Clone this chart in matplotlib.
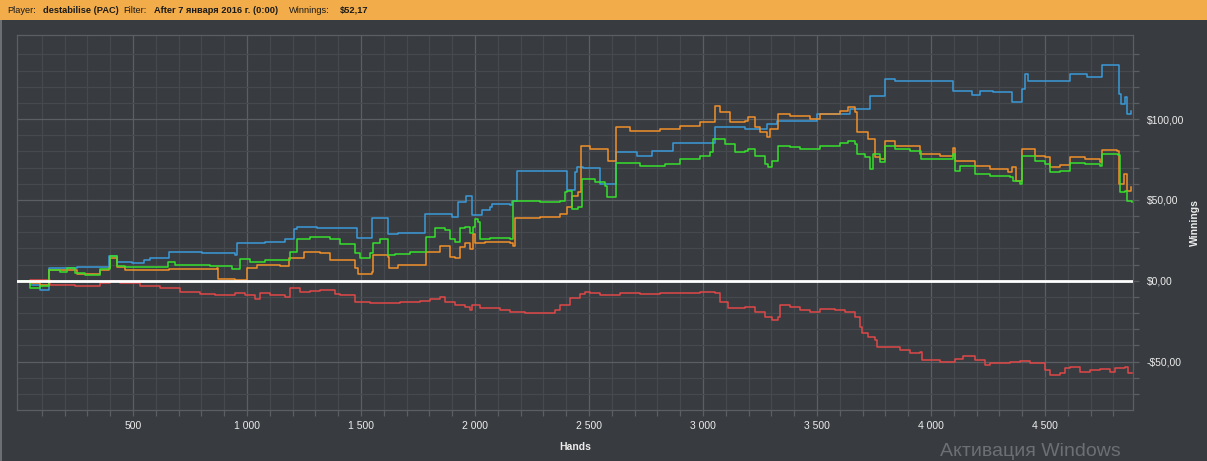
import matplotlib
matplotlib.use("Agg")
import matplotlib.pyplot as plt
from matplotlib.patches import Rectangle
from matplotlib.ticker import FixedLocator, FuncFormatter

plt.rcParams["font.family"] = ["Liberation Sans", "DejaVu Sans"]

# hands / winnings, one list pair per line
blue_h = [0, 48, 92, 132, 254, 395, 430, 496, 548, 574, 658, 803, 947, 956, 1079, 1167,
          1206, 1219, 1307, 1482, 1548, 1618, 1662, 1781, 1899, 1925, 1960, 1987, 2031,
          2066, 2075, 2153, 2162, 2184, 2403, 2439, 2447, 2474, 2548, 2583, 2618, 2710,
          2776, 2868, 3053, 3184, 3281, 3324, 3500, 3645, 3732, 3798, 3842, 4096, 4180,
          4215, 4272, 4355, 4399, 4412, 4425, 4610, 4684, 4750, 4825, 4833, 4851, 4860,
          4877]
blue_v = [0, -2.5, -5.6, 8.1, 8.7, 15.5, 11.8, 11.2, 13.0, 14.3, 18.0, 17.4, 16.1, 23.6,
          24.2, 26.1, 31.7, 33.5, 32.9, 26.7, 38.5, 28.6, 29.8, 41.0, 39.1, 48.4, 52.2,
          40.4, 43.5, 45.3, 47.2, 46.6, 49.1, 67.7, 55.9, 67.1, 70.2, 69.6, 59.6, 59.6,
          79.5, 77.0, 80.1, 85.1, 95.0, 93.8, 96.9, 98.7, 103.1, 106.2, 114.3, 124.8,
          123.6, 117.4, 114.9, 117.4, 116.7, 110.5, 118.6, 127.9, 123.6, 127.9, 126.1,
          133.5, 115.5, 109.3, 113.6, 103.1, 104.9]

orange_h = [0, 48, 92, 132, 254, 355, 395, 399, 430, 465, 658, 868, 873, 947, 1000, 1044,
            1145, 1184, 1250, 1320, 1364, 1474, 1487, 1548, 1553, 1618, 1623, 1662, 1781,
            1785, 1846, 1890, 1912, 1934, 1956, 1978, 1991, 2000, 2044, 2153, 2168, 2175,
            2285, 2373, 2403, 2425, 2452, 2465, 2504, 2548, 2579, 2583, 2618, 2680, 2811,
            2899, 2987, 3044, 3053, 3075, 3118, 3184, 3197, 3228, 3250, 3281, 3294, 3329,
            3382, 3469, 3513, 3601, 3636, 3667, 3675, 3724, 3754, 3776, 3798, 3842, 3952,
            4039, 4096, 4105, 4193, 4259, 4338, 4355, 4373, 4399, 4456, 4500, 4522, 4566,
            4610, 4675, 4741, 4750, 4816, 4825, 4846, 4860, 4877]
orange_v = [0, -1.2, -2.5, 6.8, 4.3, 6.8, 8.1, 14.3, 8.7, 6.8, 7.5, 8.1, 1.2, 0.6, 8.1,
            9.9, 9.3, 14.3, 18.0, 17.4, 13.0, 8.1, 4.3, 5.6, 16.1, 14.9, 8.1, 9.9, 9.9,
            18.0, 21.7, 14.9, 14.3, 21.1, 23.6, 19.3, 28.6, 23.6, 24.2, 23.6, 21.7, 38.5,
            39.1, 41.0, 45.3, 52.2, 54.6, 83.2, 81.4, 81.4, 81.4, 73.9, 95.0, 92.5, 93.8,
            95.6, 98.1, 98.1, 108.1, 104.3, 98.1, 98.7, 101.2, 95.0, 91.9, 88.8, 93.8,
            103.1, 101.8, 100.0, 103.1, 104.9, 107.4, 104.3, 91.9, 87.6, 76.4, 75.1, 86.3,
            83.2, 78.2, 77.0, 82.0, 73.9, 70.8, 68.9, 67.1, 70.2, 61.5, 81.4, 77.0, 76.4,
            70.2, 71.4, 76.4, 75.1, 73.3, 80.7, 80.1, 59.6, 65.8, 55.3, 57.8]

green_h = [0, 48, 92, 132, 180, 210, 246, 289, 355, 399, 430, 465, 653, 684, 750, 838,
           934, 969, 1013, 1079, 1189, 1219, 1276, 1320, 1364, 1408, 1474, 1496, 1539,
           1553, 1583, 1618, 1649, 1715, 1781, 1785, 1825, 1868, 1890, 1912, 1934, 1956,
           1978, 1991, 2000, 2013, 2022, 2066, 2153, 2167, 2285, 2373, 2395, 2403, 2425,
           2452, 2469, 2526, 2570, 2579, 2605, 2618, 2724, 2833, 2899, 2987, 3031, 3044,
           3096, 3140, 3184, 3197, 3228, 3272, 3285, 3303, 3329, 3382, 3425, 3513, 3601,
           3636, 3667, 3675, 3710, 3732, 3746, 3776, 3798, 3842, 3908, 3956, 4039, 4096,
           4105, 4127, 4193, 4259, 4346, 4360, 4390, 4399, 4456, 4500, 4522, 4566, 4610,
           4675, 4741, 4750, 4820, 4829, 4851, 4860, 4881]
green_v = [0, -4.3, -3.1, 6.8, 5.6, 8.1, 5.0, 3.7, 7.5, 15.5, 9.3, 8.7, 11.8, 9.9, 9.9,
           9.3, 7.5, 13.7, 11.8, 13.0, 18.0, 25.5, 27.3, 27.3, 25.5, 22.4, 17.4, 14.3,
           17.4, 23.6, 25.5, 16.1, 16.8, 18.0, 18.0, 27.3, 32.3, 31.1, 25.5, 24.2, 32.9,
           33.5, 29.8, 33.5, 37.9, 36.6, 25.5, 26.7, 25.5, 49.1, 48.4, 49.1, 54.6, 55.3,
           44.1, 45.3, 62.7, 60.9, 58.4, 51.5, 51.5, 72.7, 70.8, 72.0, 75.1, 77.0, 79.5,
           87.6, 84.5, 79.5, 80.1, 81.4, 77.0, 72.0, 70.2, 73.9, 83.2, 82.6, 81.4, 83.2,
           85.1, 86.3, 84.5, 78.2, 76.4, 68.9, 78.2, 73.3, 83.2, 81.4, 80.1, 75.1, 75.1,
           78.2, 67.7, 70.8, 65.8, 64.6, 64.0, 61.5, 59.6, 77.0, 73.9, 72.0, 67.1, 67.7,
           72.7, 72.0, 70.8, 78.2, 77.6, 54.6, 55.3, 49.1, 48.4]

red_h = [0, 48, 136, 180, 246, 355, 399, 443, 531, 618, 706, 794, 860, 947, 991, 1035,
         1057, 1101, 1167, 1189, 1232, 1276, 1320, 1386, 1408, 1474, 1539, 1583, 1671,
         1759, 1803, 1846, 1868, 1912, 1956, 1978, 1987, 2022, 2110, 2153, 2219, 2285,
         2351, 2373, 2417, 2460, 2482, 2504, 2548, 2636, 2724, 2811, 2899, 2987, 3031,
         3053, 3075, 3110, 3162, 3184, 3228, 3272, 3303, 3329, 3338, 3382, 3425, 3469,
         3513, 3579, 3623, 3667, 3689, 3697, 3724, 3754, 3763, 3820, 3864, 3908, 3952,
         3960, 4039, 4105, 4140, 4193, 4237, 4259, 4303, 4346, 4390, 4434, 4478, 4500,
         4522, 4566, 4588, 4610, 4653, 4697, 4741, 4785, 4807, 4851, 4864, 4881]
red_v = [0, 0.6, -2.5, -2.5, -3.1, -1.2, 0, -1.2, -3.1, -4.3, -6.8, -8.1, -8.7, -7.5,
         -8.7, -11.2, -7.5, -8.7, -9.9, -4.3, -6.8, -6.2, -5.6, -8.1, -8.7, -13.0, -13.7,
         -13.7, -13.0, -12.4, -11.2, -9.9, -13.0, -14.9, -16.1, -18.0, -14.9, -16.8,
         -18.0, -19.3, -19.9, -19.9, -18.0, -14.9, -10.6, -8.1, -6.8, -7.5, -8.7, -7.5,
         -8.1, -7.5, -7.5, -6.8, -6.8, -7.5, -13.0, -16.8, -16.8, -16.1, -19.3, -22.4,
         -24.2, -22.4, -14.9, -16.1, -18.0, -19.3, -17.4, -18.0, -19.3, -22.4, -28.6,
         -32.3, -34.8, -36.6, -41.0, -41.0, -42.8, -44.7, -44.1, -49.1, -50.3, -48.4,
         -46.6, -49.1, -52.2, -50.9, -50.9, -50.3, -49.7, -50.9, -50.9, -55.3, -58.4,
         -57.1, -54.0, -53.4, -56.5, -55.3, -54.6, -56.5, -54.0, -53.4, -57.1, -57.1]

x_major = [500, 1000, 1500, 2000, 2500, 3000, 3500, 4000, 4500]
x_minor = [h for h in range(100, 4900, 100) if h % 500]
y_major = [-50, 0, 50, 100]
y_minor = [-70, -60, -40, -30, -20, -10, 10, 20, 30, 40, 60, 70, 80, 90, 110, 120, 130, 140]

bg = "#383b3f"
grid_major = "#5b5e62"
grid_minor = "#46494d"
label_col = "#ececec"

fig = plt.figure(figsize=(12.07, 4.61), dpi=100, facecolor=bg)
W, H = 1207, 461

# header bar
fig.patches.append(Rectangle((0, 1 - 20 / H), 1, 20 / H, transform=fig.transFigure,
                             facecolor="#f2ad4a", edgecolor="none", zorder=0))
fig.patches.append(Rectangle((0, 0), 2 / W, 1 - 20 / H, transform=fig.transFigure,
                             facecolor="#6c6f73", edgecolor="none", zorder=0))
hdr = [(7, "Player:", "normal"), (43, "destabilise (PAC)", "bold"),
       (123, "Filter:", "normal"), (154, "After 7 января 2016 г. (0:00)", "bold"),
       (289, "Winnings:", "normal"), (340, "$52,17", "bold")]
for px, s, w in hdr:
    fig.text(px / W, 1 - 10.5 / H, s, fontsize=6.7, fontweight=w, color="#1a1a1a",
             va="center", ha="left")

ax = fig.add_axes([17 / W, 1 - 410 / H, (1133 - 17) / W, (410 - 35) / H])
ax.set_facecolor(bg)

ax.step(blue_h, blue_v, where="post", color="#3a9ad9", lw=1.1, zorder=3)
ax.step(orange_h, orange_v, where="post", color="#f0902a", lw=1.1, zorder=4)
ax.step(green_h, green_v, where="post", color="#36e02c", lw=1.1, zorder=5)
ax.step(red_h, red_v, where="post", color="#e04848", lw=1.1, zorder=3)
ax.axhline(0, color="white", lw=2.0, zorder=6)

ax.set_xlim(-9, 4886)
ax.set_ylim(-80, 152)

ax.xaxis.set_major_locator(FixedLocator(x_major))
ax.xaxis.set_minor_locator(FixedLocator(x_minor))
ax.yaxis.set_major_locator(FixedLocator(y_major))
ax.yaxis.set_minor_locator(FixedLocator(y_minor))
ax.xaxis.set_major_formatter(FuncFormatter(lambda v, p: f"{int(v):,}".replace(",", " ")))


def money(v, p):
    s = f"${abs(v):.2f}".replace(".", ",")
    return "-" + s if v < 0 else s


ax.yaxis.set_major_formatter(FuncFormatter(money))
ax.yaxis.tick_right()
ax.yaxis.set_label_position("right")

ax.grid(which="major", color=grid_major, lw=0.9)
ax.grid(which="minor", color=grid_minor, lw=0.9)
ax.set_axisbelow(True)
for sp in ax.spines.values():
    sp.set_color(grid_major)
    sp.set_linewidth(0.9)

ax.tick_params(which="both", colors=grid_major, labelcolor=label_col, labelsize=7.5,
               length=4, width=0.9)
ax.tick_params(axis="x", pad=4)
ax.tick_params(axis="y", pad=6)

ax.set_xlabel("Hands", fontsize=7.5, fontweight="bold", color=label_col, labelpad=8)
ax.set_ylabel("Winnings", fontsize=7.5, fontweight="bold", color=label_col)
ax.yaxis.set_label_coords((1190 - 17) / 1116, 0.5)

fig.text(940 / W, 1 / H, "Активация Windows", fontsize=14, color="#6c6f74",
         ha="left", va="bottom")

fig.savefig("out.png", dpi=100, facecolor=bg)
